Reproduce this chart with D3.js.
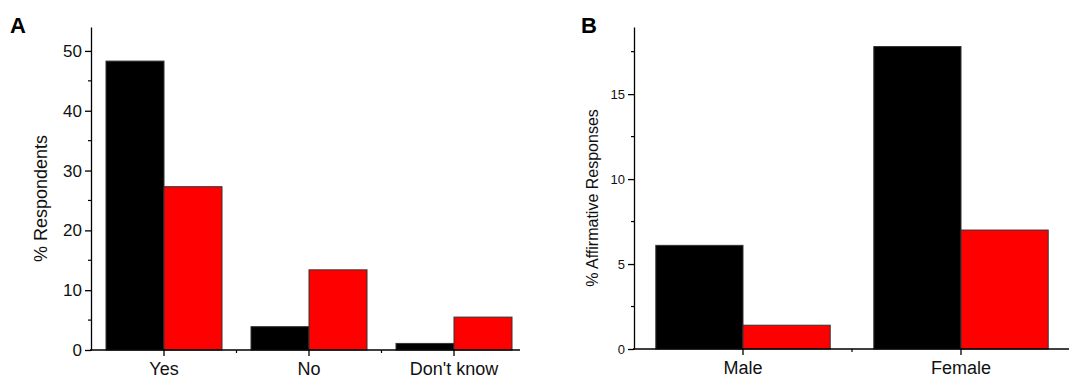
<!DOCTYPE html>
<html><head><meta charset="utf-8">
<script src="https://cdn.jsdelivr.net/npm/d3@7"></script>
<style>body{margin:0;background:#fff}svg{display:block;font-family:"Liberation Sans",Arial,sans-serif}</style>
</head><body>
<svg id="c" width="1069" height="379"></svg>
<script>
// Panel A data
const catsA = ["Yes", "No", "Don't know"];
const seriesA1 = [48.3, 3.9, 1.1];   // black
const seriesA2 = [27.3, 13.4, 5.5];  // red
const ticksA = [0, 10, 20, 30, 40, 50];
// Panel B data
const catsB = ["Male", "Female"];
const seriesB1 = [6.1, 17.8];
const seriesB2 = [1.4, 7.0];
const ticksB = [0, 5, 10, 15];
const seriesColors = ["#000000", "#ff0000"];

const svg = d3.select("#c");

function panel(o) {
  const g = svg.append("g");
  const x = d3.scaleBand().domain(o.cats).range([o.x0, o.x1]).paddingInner(0.2).paddingOuter(0.1);
  const xs = d3.scaleBand().domain([0, 1]).range([0, x.bandwidth()]);
  const y = d3.scaleLinear().domain([0, o.ymax]).range([o.yBottom, o.yTop]);
  const series = [o.s1, o.s2];
  // bars
  series.forEach((s, si) => {
    g.selectAll(null).data(s).enter().append("rect")
      .attr("x", (d, i) => x(o.cats[i]) + xs(si))
      .attr("y", d => y(d))
      .attr("width", xs.bandwidth())
      .attr("height", d => y(0) - y(d))
      .attr("fill", seriesColors[si])
      .attr("stroke", "#333").attr("stroke-width", 1);
  });
  // y axis
  const ya = d3.axisLeft(y).tickValues(o.ticks).tickSize(6).tickPadding(3).tickSizeOuter(0);
  const yg = g.append("g").attr("transform", `translate(${o.yAxisX},0)`).call(ya);
  yg.select(".domain").attr("stroke-width", 1.3);
  yg.selectAll(".tick line").attr("stroke-width", 1.3);
  yg.selectAll("text").attr("font-size", o.tickFont).attr("fill", "#111").attr("font-family", "Liberation Sans, Arial, sans-serif");
  // minor y ticks
  g.selectAll(null).data(o.minorY).enter().append("line")
    .attr("x1", o.yAxisX - 3).attr("x2", o.yAxisX)
    .attr("y1", d => y(d)).attr("y2", d => y(d))
    .attr("stroke", "#000").attr("stroke-width", 1.2);
  // x axis line
  g.append("line").attr("x1", o.yAxisX - 1).attr("x2", o.xLineEnd)
    .attr("y1", y(0)).attr("y2", y(0)).attr("stroke", "#000").attr("stroke-width", 1.3);
  // major x ticks
  g.selectAll(null).data(o.cats).enter().append("line")
    .attr("x1", d => x(d) + x.bandwidth() / 2).attr("x2", d => x(d) + x.bandwidth() / 2)
    .attr("y1", y(0)).attr("y2", y(0) + 6).attr("stroke", "#000").attr("stroke-width", 1.3);
  // minor x ticks between categories
  g.selectAll(null).data(o.cats.slice(1)).enter().append("line")
    .attr("x1", d => x(d) - x.step() * 0.1).attr("x2", d => x(d) - x.step() * 0.1)
    .attr("y1", y(0)).attr("y2", y(0) + 3).attr("stroke", "#000").attr("stroke-width", 1.2);
  // category labels
  g.selectAll(null).data(o.cats).enter().append("text")
    .attr("x", d => x(d) + x.bandwidth() / 2).attr("y", y(0) + 25)
    .attr("text-anchor", "middle").attr("font-size", 18).attr("fill", "#111").text(d => d);
  // y title
  g.append("text").attr("transform", `translate(${o.titleX},${(o.yTop + o.yBottom) / 2 + o.titleDy}) rotate(-90)`)
    .attr("text-anchor", "middle").attr("font-size", o.titleFont).attr("fill", "#111").text(o.title);
  // panel letter
  g.append("text").attr("x", o.letterX).attr("y", 33).attr("font-size", 22).attr("font-weight", "bold")
    .attr("fill", "#000").text(o.letter);
}

panel({cats: catsA, s1: seriesA1, s2: seriesA2, ticks: ticksA, minorY: [5, 15, 25, 35, 45],
  x0: 91.5, x1: 526.5, xLineEnd: 520, yAxisX: 91, ymax: 54, yBottom: 350, yTop: 27,
  tickFont: 17, title: "% Respondents", titleX: 47, titleDy: 10, titleFont: 18, letter: "A", letterX: 10});

panel({cats: catsB, s1: seriesB1, s2: seriesB2, ticks: ticksB, minorY: [2.5, 7.5, 12.5, 17.5],
  x0: 634, x1: 1070, xLineEnd: 1069, yAxisX: 634, ymax: 18.95, yBottom: 349, yTop: 27,
  tickFont: 13, title: "% Affirmative Responses", titleX: 598, titleDy: 10, titleFont: 16, letter: "B", letterX: 581});
</script>
</body></html>
